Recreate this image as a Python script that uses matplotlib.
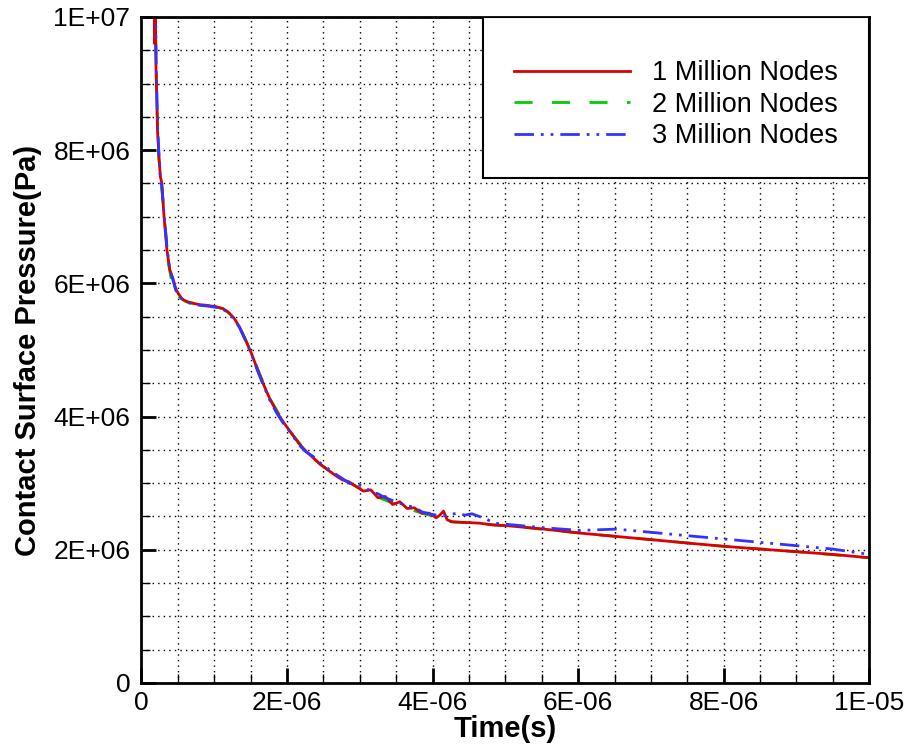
import matplotlib.pyplot as plt
from matplotlib.patches import Rectangle
from matplotlib.ticker import MultipleLocator

# time in microseconds, pressure in MPa (scaled on plotting)
t_red = [0.15, 0.16, 0.17, 0.18, 0.19, 0.20, 0.21, 0.22, 0.24, 0.26, 0.28, 0.31, 0.35,
         0.39, 0.43, 0.47, 0.51, 0.55, 0.58, 0.64, 0.71, 0.80, 0.90, 1.02, 1.12, 1.19,
         1.27, 1.35, 1.43, 1.51, 1.59, 1.67, 1.77, 1.87, 1.96, 2.06, 2.16, 2.26, 2.36,
         2.46, 2.56, 2.66, 2.76, 2.85, 2.95, 3.05, 3.15, 3.25, 3.35, 3.45, 3.55, 3.65,
         3.75, 3.85, 3.95, 4.05, 4.10, 4.15, 4.20, 4.27, 4.44, 4.64, 4.84, 5.04, 5.53,
         6.03, 6.52, 7.02, 7.51, 8.02, 8.51, 9.01, 9.50, 10.0]
p_red = [12.0, 10.5, 11.5, 9.6, 10.2, 9.2, 8.8, 8.3, 7.9, 7.6, 7.5, 7.0, 6.5,
         6.2, 6.08, 5.92, 5.84, 5.78, 5.75, 5.72, 5.70, 5.68, 5.67, 5.65, 5.62, 5.57,
         5.48, 5.34, 5.15, 4.95, 4.72, 4.50, 4.25, 4.05, 3.90, 3.75, 3.60, 3.48, 3.38,
         3.28, 3.20, 3.12, 3.05, 3.02, 2.95, 2.88, 2.90, 2.78, 2.80, 2.68, 2.72, 2.62,
         2.63, 2.55, 2.55, 2.48, 2.52, 2.58, 2.45, 2.42, 2.41, 2.40, 2.37, 2.36, 2.31,
         2.25, 2.20, 2.15, 2.10, 2.05, 2.01, 1.97, 1.93, 1.88]

t_green = [0.15, 0.17, 0.19, 0.21, 0.23, 0.26, 0.29, 0.33, 0.37, 0.42, 0.47, 0.53,
           0.62, 0.77, 0.97, 1.12, 1.22, 1.32, 1.42, 1.52, 1.62, 1.77, 1.92, 2.06,
           2.26, 2.46, 2.66, 2.85, 3.05, 3.25, 3.45, 3.65, 3.85, 4.05, 4.25, 4.54,
           5.04, 6.03, 7.02, 8.02, 9.01, 10.0]
p_green = [11.8, 11.2, 10.0, 8.8, 8.0, 7.6, 7.3, 6.8, 6.3, 6.0, 5.87, 5.78,
           5.72, 5.69, 5.66, 5.62, 5.54, 5.39, 5.18, 4.93, 4.65, 4.26, 3.98, 3.75,
           3.48, 3.28, 3.12, 3.01, 2.89, 2.79, 2.70, 2.62, 2.55, 2.49, 2.42, 2.40,
           2.36, 2.25, 2.15, 2.05, 1.97, 1.88]

t_blue = [0.15, 0.16, 0.17, 0.18, 0.19, 0.20, 0.21, 0.22, 0.24, 0.26, 0.28, 0.31, 0.35,
          0.39, 0.43, 0.47, 0.51, 0.55, 0.58, 0.64, 0.71, 0.80, 0.90, 1.02, 1.12, 1.19,
          1.27, 1.35, 1.43, 1.51, 1.59, 1.67, 1.77, 1.87, 1.96, 2.06, 2.16, 2.26, 2.36,
          2.46, 2.56, 2.66, 2.76, 2.85, 2.95, 3.05, 3.15, 3.25, 3.35, 3.45, 3.55, 3.65,
          3.75, 3.85, 3.95, 4.05, 4.15, 4.25, 4.34, 4.44, 4.54, 4.64, 4.74, 4.84, 5.04,
          5.53, 6.03, 6.52, 7.02, 7.51, 8.02, 8.51, 9.01, 9.50, 10.0]
p_blue = [12.0, 11.0, 12.0, 10.4, 11.0, 9.4, 8.9, 8.4, 7.95, 7.55, 7.45, 7.05, 6.55,
          6.2, 6.06, 5.9, 5.82, 5.77, 5.74, 5.71, 5.69, 5.67, 5.66, 5.64, 5.61, 5.56,
          5.47, 5.33, 5.14, 4.94, 4.70, 4.48, 4.23, 4.03, 3.88, 3.74, 3.58, 3.47, 3.40,
          3.30, 3.22, 3.14, 3.07, 3.00, 2.98, 2.96, 2.87, 2.84, 2.78, 2.74, 2.70, 2.66,
          2.64, 2.57, 2.54, 2.52, 2.51, 2.53, 2.55, 2.52, 2.54, 2.50, 2.46, 2.40, 2.38,
          2.33, 2.29, 2.31, 2.26, 2.21, 2.16, 2.11, 2.06, 2.01, 1.93]

labels = ['1 Million Nodes', '2 Million Nodes', '3 Million Nodes']

x_ticks = [0, 2e-6, 4e-6, 6e-6, 8e-6, 1e-5]
x_ticklabels = ['0', '2E-06', '4E-06', '6E-06', '8E-06', '1E-05']
y_ticks = [0, 2e6, 4e6, 6e6, 8e6, 1e7]
y_ticklabels = ['0', '2E+06', '4E+06', '6E+06', '8E+06', '1E+07']

plt.rcParams['font.family'] = ['Liberation Sans', 'DejaVu Sans']

fig = plt.figure(figsize=(9.11, 7.46), dpi=100)
ax = fig.add_axes([0.1553, 0.0845, 0.7989, 0.8928])

lw = 2.0
ax.plot([t * 1e-6 for t in t_green], [p * 1e6 for p in p_green], color='#00cc00',
        linestyle=(0, (6.5, 7)), linewidth=lw, label=labels[1], zorder=3)
ax.plot([t * 1e-6 for t in t_red], [p * 1e6 for p in p_red], color='#dd0000',
        linestyle='-', linewidth=lw, label=labels[0], zorder=4)
ax.plot([t * 1e-6 for t in t_blue], [p * 1e6 for p in p_blue], color='#3333ff',
        linestyle=(0, (7, 2.5, 1, 2.5, 1, 2.5)), linewidth=lw, label=labels[2], zorder=5)

ax.set_xlim(0, 1e-5)
ax.set_ylim(0, 1e7)
ax.set_xticks(x_ticks)
ax.set_xticklabels(x_ticklabels, fontsize=19)
ax.set_yticks(y_ticks)
ax.set_yticklabels(y_ticklabels, fontsize=19)
ax.xaxis.set_minor_locator(MultipleLocator(5e-7))
ax.yaxis.set_minor_locator(MultipleLocator(5e5))

ax.tick_params(which='major', direction='in', length=11, width=2)
ax.tick_params(which='minor', direction='in', length=6.5, width=1)
ax.tick_params(axis='x', which='major', pad=6)
ax.tick_params(axis='y', which='major', pad=8)
ax.tick_params(top=False, right=False, which='both')

ax.grid(which='both', linestyle=(0, (1, 3)), color='black', linewidth=1)
for s in ax.spines.values():
    s.set_linewidth(2)
    s.set_zorder(6)

ax.set_xlabel('Time(s)', fontsize=21, fontweight='bold', labelpad=0)
ax.set_ylabel('Contact Surface Pressure(Pa)', fontsize=21, fontweight='bold', labelpad=8)

# legend box
box = Rectangle((0.469, 0.758), 0.531, 0.242, transform=ax.transAxes,
                facecolor='white', edgecolor='black', linewidth=1.5, zorder=7)
ax.add_patch(box)
h, l = ax.get_legend_handles_labels()
order = [l.index(lab) for lab in labels]
leg = ax.legend([h[i] for i in order], [l[i] for i in order], loc='center',
                bbox_to_anchor=(0.734, 0.868), frameon=False, fontsize=19.5,
                handlelength=4.3, handletextpad=0.8, labelspacing=0.2)
leg.set_zorder(8)

fig.savefig('out.png', dpi=100)
